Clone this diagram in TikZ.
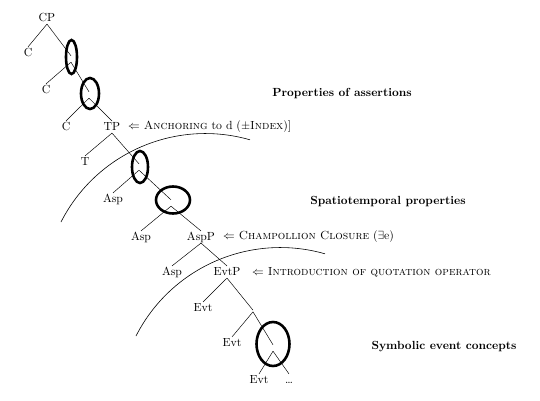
\documentclass[tikz,border=0pt]{standalone}
\usepackage{amssymb}
\begin{document}
\begin{tikzpicture}[x=0.85pt,y=-0.85pt,
  lab/.style={inner sep=1.2pt, text height=1.55ex, text depth=0.2ex},
  emp/.style={inner sep=0pt, minimum width=0pt, minimum height=5pt},
  empsmall/.style={inner sep=0pt, minimum width=0pt, minimum height=1pt},
  edge/.style={line width=0.4pt},
  oval/.style={line width=2.2pt},
  curve/.style={line width=0.5pt},
  note/.style={anchor=west, inner sep=0pt},
  head/.style={inner sep=0pt, font=\bfseries}]
\useasboundingbox (0,0) rectangle (540,401);
% tree nodes
\node[lab] (cp) at (47,18) {CP};
\node[lab] (c1) at (28,53) {C};
\node[emp] (x1) at (71,59) {};
\node[lab] (c2) at (46,90) {C};
\node[emp] (x2) at (89,95) {};
\node[lab] (c3) at (66,127) {C};
\node[lab] (tp) at (112,127) {TP};
\node[lab] (t) at (85,162) {T};
\node[emp] (x3) at (139,167) {};
\node[lab] (asp1) at (113,199) {Asp};
\node[emp] (x4) at (171,203) {};
\node[lab] (asp2) at (141,237) {Asp};
\node[lab] (aspp) at (201,237) {AspP};
\node[lab] (asp3) at (172,272) {Asp};
\node[lab] (evtp) at (227,272) {EvtP};
\node[lab] (evt1) at (203,308) {Evt};
\node[empsmall] (x5) at (253,311) {};
\node[lab] (evt2) at (232,343) {Evt};
\node[emp] (x6) at (273,348) {};
\node[lab] (evt3) at (259,380) {Evt};
\node[lab] (dots) at (289,380) {\dots};
% edges
\draw[edge] (cp.south) -- (c1.north);
\draw[edge] (cp.south) -- (x1.north);
\draw[edge] (x1.south) -- (c2.north);
\draw[edge] (x1.south) -- (x2.north);
\draw[edge] (x2.south) -- (c3.north);
\draw[edge] (x2.south) -- (tp.north);
\draw[edge] (tp.south) -- (t.north);
\draw[edge] (tp.south) -- (x3.north);
\draw[edge] (x3.south) -- (asp1.north);
\draw[edge] (x3.south) -- (x4.north);
\draw[edge] (x4.south) -- (asp2.north);
\draw[edge] (x4.south) -- (aspp.north);
\draw[edge] (aspp.south) -- (asp3.north);
\draw[edge] (aspp.south) -- (evtp.north);
\draw[edge] (evtp.south) -- (evt1.north);
\draw[edge] (evtp.south) -- (x5.north);
\draw[edge] (x5.south) -- (evt2.north);
\draw[edge] (x5.south) -- (x6.north);
\draw[edge] (x6.south) -- (evt3.north);
\draw[edge] (x6.south) -- (dots.north);
% ellipses
\draw[oval] (71.5,57) ellipse [x radius=5.5, y radius=17];
\draw[oval] (90,93.5) ellipse [x radius=9, y radius=15.5];
\draw[oval] (140,167) ellipse [x radius=8, y radius=16];
\draw[oval] (173,200) ellipse [x radius=17, y radius=13.5];
\draw[oval] (273,344) ellipse [x radius=16.5, y radius=22];
% arcs
\draw[curve] (61,222) arc[start angle=207, end angle=286, radius=162];
\draw[curve] (136,336) arc[start angle=207, end angle=286, radius=162];
% annotations
\node[note] (n1) at (128,127) {$\Leftarrow$ \textsc{Anchoring} to d ($\pm$\textsc{Index})]};
\node[note] (n2) at (223,237) {$\Leftarrow$ \textsc{Champollion Closure} ($\exists$e)};
\node[note] (n3) at (252,272) {$\Leftarrow$ \textsc{Introduction of quotation operator}};
\node[head] (h1) at (342,94) {Properties of assertions};
\node[head] (h2) at (388,202) {Spatiotemporal properties};
\node[head] (h3) at (444,347) {Symbolic event concepts};
\end{tikzpicture}
\end{document}
